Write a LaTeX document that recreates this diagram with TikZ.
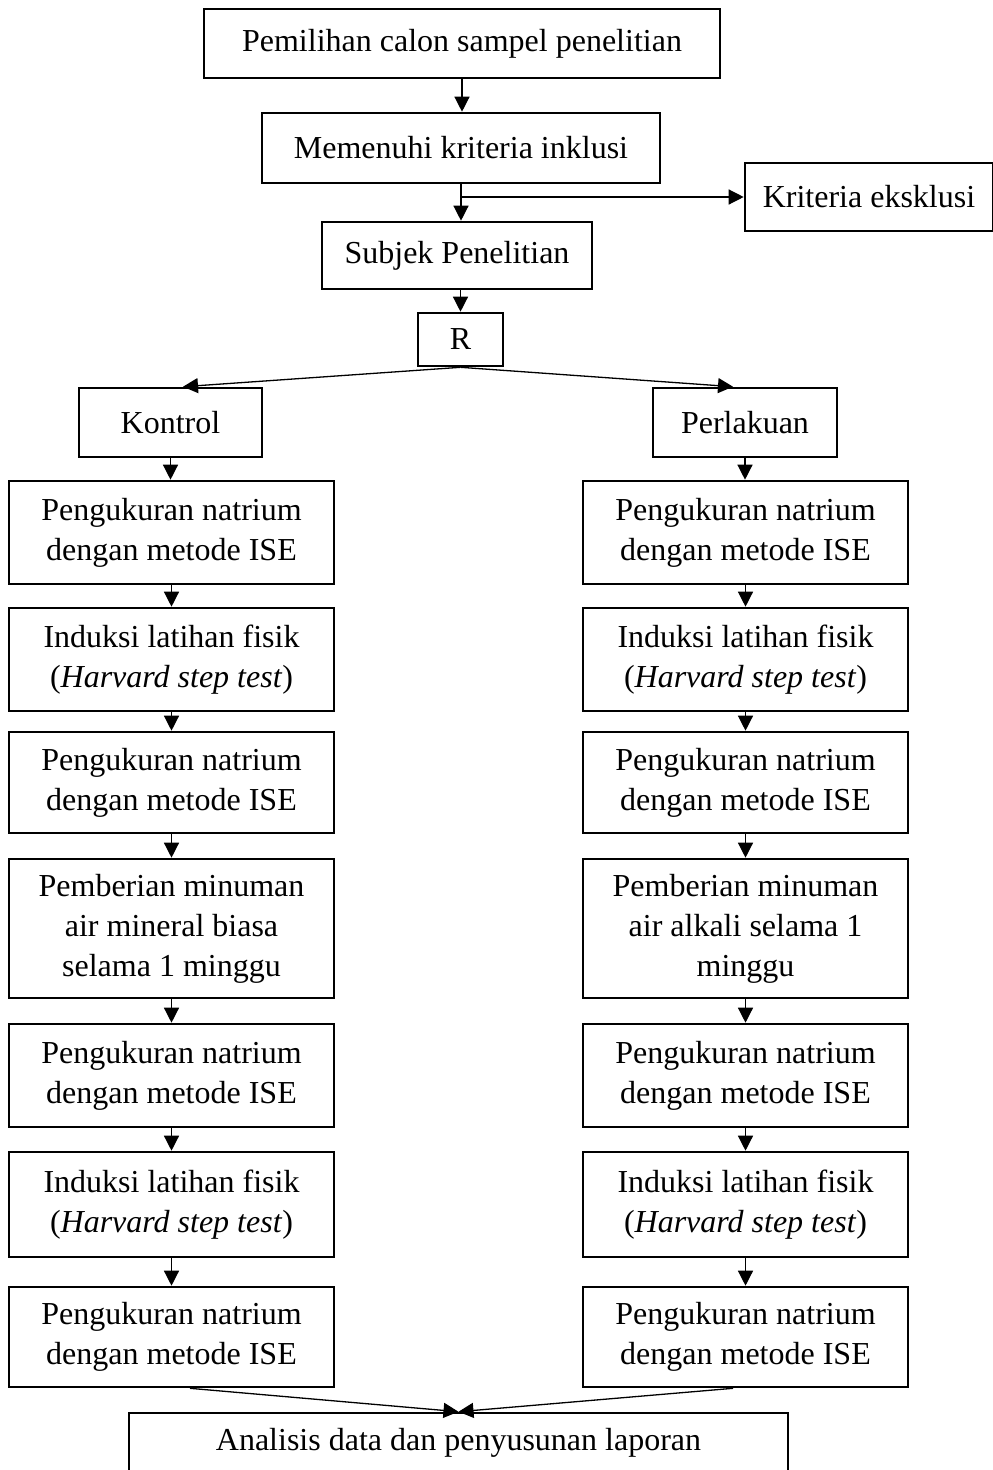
\documentclass[tikz,border=0pt]{standalone}
\usepackage{fontspec}
\setmainfont{Liberation Serif}
\usetikzlibrary{arrows.meta}
\begin{document}
\begin{tikzpicture}[x=1pt,y=-1pt,
  box/.style={draw, line width=2.6pt, align=center, inner sep=0pt,
    font=\fontsize{32}{40}\selectfont},
  arr/.style={line width=1.3pt, -{Triangle[length=15pt,width=15pt]}},
  ln/.style={line width=1.3pt}]
\useasboundingbox (0,0) rectangle (993,1470);
\clip (0,0) rectangle (993,1470);
% top chain
\node[box, minimum width=516pt, minimum height=69pt] (pem) at (462,43.5) {Pemilihan calon sampel penelitian};
\node[box, minimum width=398pt, minimum height=70pt] (mem) at (461,148) {Memenuhi kriteria inklusi};
\node[box, minimum width=248pt, minimum height=68pt] (eks) at (869,197) {Kriteria eksklusi};
\node[box, minimum width=270pt, minimum height=67pt] (sub) at (457,255.5) {Subjek Penelitian};
\node[box, minimum width=85pt, minimum height=53pt] (R) at (460.5,339.5) {R};
\node[box, minimum width=183pt, minimum height=69pt] (kon) at (170.5,422.5) {Kontrol};
\node[box, minimum width=184pt, minimum height=69pt] (per) at (745,422.5) {Perlakuan};
% left column
\node[box, minimum width=325pt, minimum height=103pt] (l1) at (171.5,532.5) {Pengukuran natrium\\dengan metode ISE};
\node[box, minimum width=325pt, minimum height=103pt] (l2) at (171.5,659.5) {Induksi latihan fisik\\(\textit{Harvard step test})};
\node[box, minimum width=325pt, minimum height=101pt] (l3) at (171.5,782.5) {Pengukuran natrium\\dengan metode ISE};
\node[box, minimum width=325pt, minimum height=139pt] (l4) at (171.5,928.5) {Pemberian minuman\\air mineral biasa\\selama 1 minggu};
\node[box, minimum width=325pt, minimum height=103pt] (l5) at (171.5,1075.5) {Pengukuran natrium\\dengan metode ISE};
\node[box, minimum width=325pt, minimum height=105pt] (l6) at (171.5,1204.5) {Induksi latihan fisik\\(\textit{Harvard step test})};
\node[box, minimum width=325pt, minimum height=100pt] (l7) at (171.5,1337) {Pengukuran natrium\\dengan metode ISE};
% right column
\node[box, minimum width=325pt, minimum height=103pt] (r1) at (745.5,532.5) {Pengukuran natrium\\dengan metode ISE};
\node[box, minimum width=325pt, minimum height=103pt] (r2) at (745.5,659.5) {Induksi latihan fisik\\(\textit{Harvard step test})};
\node[box, minimum width=325pt, minimum height=101pt] (r3) at (745.5,782.5) {Pengukuran natrium\\dengan metode ISE};
\node[box, minimum width=325pt, minimum height=139pt] (r4) at (745.5,928.5) {Pemberian minuman\\air alkali selama 1\\minggu};
\node[box, minimum width=325pt, minimum height=103pt] (r5) at (745.5,1075.5) {Pengukuran natrium\\dengan metode ISE};
\node[box, minimum width=325pt, minimum height=105pt] (r6) at (745.5,1204.5) {Induksi latihan fisik\\(\textit{Harvard step test})};
\node[box, minimum width=325pt, minimum height=100pt] (r7) at (745.5,1337) {Pengukuran natrium\\dengan metode ISE};
% bottom
\node[box, minimum width=659pt, minimum height=60pt] (anal) at (458.5,1443) {Analisis data dan penyusunan laporan};
% connectors
\draw[arr] (pem.south) -- (pem.south |- mem.north);
\draw[arr] (mem.south) -- (mem.south |- sub.north);
\draw[arr] (mem.south |- eks.west) -- (eks.west);
\draw[arr] (R.north |- sub.south) -- (R.north);
\draw[arr] (R.south) -- ([xshift=12.5pt]kon.north);
\draw[arr] (R.south) -- ([xshift=-12pt]per.north);
\draw[arr] (kon.south) -- (kon.south |- l1.north);
\draw[arr] (per.south) -- (per.south |- r1.north);
\foreach \a/\b in {l1/l2,l2/l3,l3/l4,l4/l5,l5/l6,l6/l7,r1/r2,r2/r3,r3/r4,r4/r5,r5/r6,r6/r7}{
  \draw[arr] (\a.south) -- (\b.north);
}
\draw[arr] ([xshift=18.5pt]l7.south) -- (anal.north);
\draw[arr] ([xshift=-12.5pt]r7.south) -- (anal.north);
\end{tikzpicture}
\end{document}
